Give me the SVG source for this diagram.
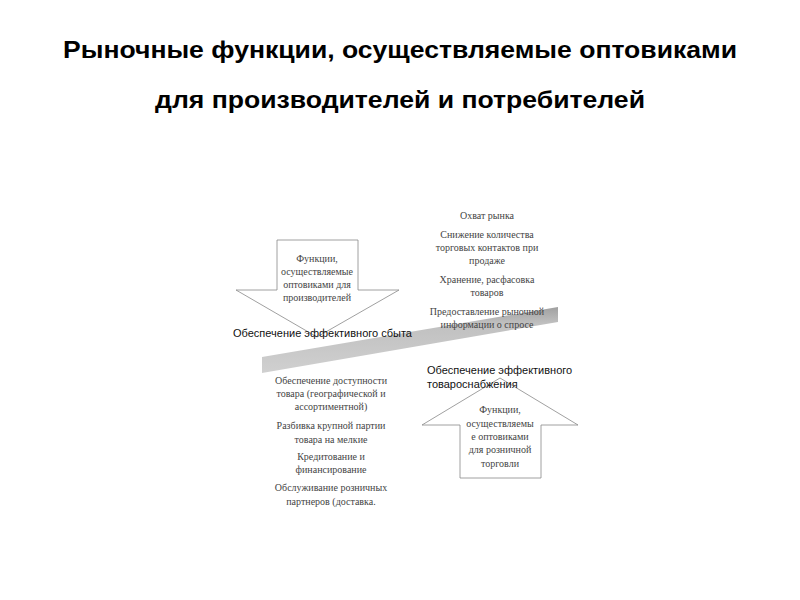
<svg xmlns="http://www.w3.org/2000/svg" width="800" height="600" viewBox="0 0 800 600">
<defs>
<linearGradient id="band" x1="0" y1="0" x2="0" y2="1">
<stop offset="0" stop-color="#a0a0a0"/>
<stop offset="0.25" stop-color="#c0c0c0"/>
<stop offset="1" stop-color="#d0d0d0"/>
</linearGradient>
<style>
.title{font-family:"Liberation Sans",Arial,sans-serif;font-weight:bold;font-size:24px;fill:#000;text-anchor:middle}
.lbl{font-family:"Liberation Sans",Arial,sans-serif;font-size:11px;fill:#111}
.ser{font-family:"Liberation Serif","Times New Roman",serif;font-size:10px;fill:#444;text-anchor:middle}
.arrow{fill:#fff;stroke:#888;stroke-width:0.8}
</style>
</defs>
<rect width="800" height="600" fill="#fff"/>
<text class="title" x="400" y="58" textLength="674" lengthAdjust="spacingAndGlyphs">Рыночные функции, осуществляемые оптовиками</text>
<text class="title" x="400" y="108" textLength="490" lengthAdjust="spacingAndGlyphs">для производителей и потребителей</text>

<g id="producers-arrow">
<path class="arrow" d="M277,240 L358,240 L358,290 L399,290 L317,337 L236,290 L277,290 Z"/>
<text class="ser" x="317" y="262">Функции,</text>
<text class="ser" x="317" y="275">осуществляемые</text>
<text class="ser" x="317" y="288">оптовиками для</text>
<text class="ser" x="317" y="301">производителей</text>
</g>

<g id="retail-arrow">
<path class="arrow" d="M500,378 L578,425 L541,425 L541,478 L460,478 L460,425 L422,425 Z"/>
<text class="ser" x="500" y="413">Функции,</text>
<text class="ser" x="500" y="427">осуществляемы</text>
<text class="ser" x="500" y="440">е оптовиками</text>
<text class="ser" x="500" y="453">для розничной</text>
<text class="ser" x="500" y="467">торговли</text>
</g>

<g id="band-node">
<polygon points="262,357 558,307 558,322 262,373" fill="url(#band)"/>
</g>

<g id="label-sbyt">
<text class="lbl" x="233" y="337">Обеспечение эффективного сбыта</text>
</g>
<g id="label-snab">
<text class="lbl" x="427" y="374">Обеспечение эффективного</text>
<text class="lbl" x="427" y="388">товароснабжения</text>
</g>

<g id="producer-functions">
<text class="ser" x="487" y="219">Охват рынка</text>
<text class="ser" x="487" y="238">Снижение количества</text>
<text class="ser" x="487" y="251">торговых контактов при</text>
<text class="ser" x="487" y="264">продаже</text>
<text class="ser" x="487" y="283">Хранение, расфасовка</text>
<text class="ser" x="487" y="296">товаров</text>
<text class="ser" x="487" y="315">Предоставление рыночной</text>
<text class="ser" x="487" y="328">информации о спросе</text>
</g>

<g id="retail-functions">
<text class="ser" x="331" y="384">Обеспечение доступности</text>
<text class="ser" x="331" y="397">товара (географической и</text>
<text class="ser" x="331" y="410">ассортиментной)</text>
<text class="ser" x="331" y="429">Разбивка крупной партии</text>
<text class="ser" x="331" y="443">товара на мелкие</text>
<text class="ser" x="331" y="460">Кредитование и</text>
<text class="ser" x="331" y="473">финансирование</text>
<text class="ser" x="331" y="491">Обслуживание розничных</text>
<text class="ser" x="331" y="505">партнеров (доставка.</text>
</g>

<g id="connectors"></g>
</svg>
